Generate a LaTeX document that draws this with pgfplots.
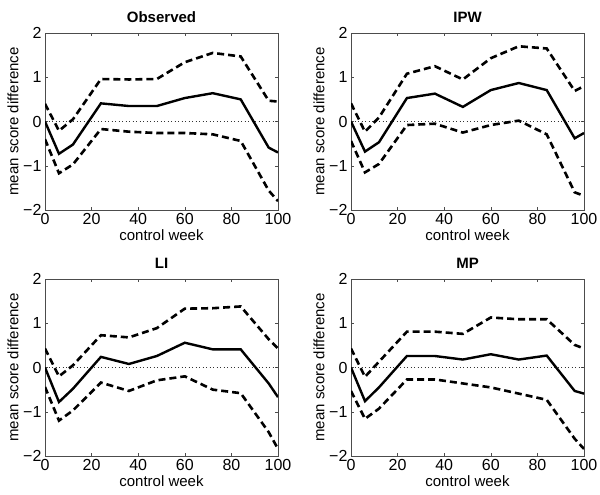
\documentclass[border=0pt]{standalone}
\usepackage{pgfplots}
\pgfplotsset{compat=1.18}
\usepackage{fontspec}
\setmainfont{Liberation Sans}

\pgfplotsset{
  panel/.style={
    scale only axis, width=233bp, height=177bp, anchor=south west,
    xmin=0, xmax=100, ymin=-2, ymax=2,
    xtick={0,20,40,60,80,100}, ytick={-2,-1,0,1,2},
    yticklabels={−2,−1,0,1,2},
    tick align=inside, major tick length=3bp,
    xtick pos=both, ytick pos=both,
    axis line style={black!70, line width=0.5bp},
    tick style={black!70, line width=0.5bp},
    ticklabel style={font=\fontsize{16bp}{18bp}\selectfont},
    label style={font=\fontsize{15bp}{17bp}\selectfont},
    title style={font=\fontsize{15bp}{17bp}\selectfont\bfseries, yshift=1bp},
    xticklabel style={yshift=0bp},
    /pgf/number format/assume math mode=true,
    xlabel={control week}, ylabel={mean score difference},
    xlabel style={yshift=2bp}, ylabel style={yshift=-2bp},
  },
  est/.style={black, line width=2.4bp},
  ci/.style={black, line width=2.6bp, dash pattern=on 7bp off 4bp},
  zero/.style={black!80, line width=0.8bp, dash pattern=on 1bp off 2.5bp},
}

\begin{document}
\begin{tikzpicture}
\useasboundingbox (0,0) rectangle (600bp,-495bp);

% Observed
\begin{axis}[panel, at={(45bp,-210bp)}, title={Observed}]
  \addplot[zero] coordinates {(0,0) (100,0)};
  \addplot[ci] coordinates {(0,0.40) (6,-0.21) (12,0.05) (24,0.96) (36,0.95) (48,0.96) (60,1.34) (72,1.55) (84,1.47) (96,0.47) (100,0.45)};
  \addplot[est] coordinates {(0,0) (6,-0.73) (12,-0.52) (24,0.41) (36,0.35) (48,0.35) (60,0.53) (72,0.64) (84,0.50) (96,-0.59) (100,-0.70)};
  \addplot[ci] coordinates {(0,-0.40) (6,-1.17) (12,-0.97) (24,-0.17) (36,-0.23) (48,-0.26) (60,-0.26) (72,-0.29) (84,-0.44) (96,-1.56) (100,-1.80)};
\end{axis}

% IPW
\begin{axis}[panel, at={(351bp,-210bp)}, title={IPW}]
  \addplot[zero] coordinates {(0,0) (100,0)};
  \addplot[ci] coordinates {(0,0.41) (6,-0.23) (12,0.09) (24,1.08) (36,1.25) (48,0.95) (60,1.43) (72,1.70) (84,1.65) (96,0.69) (100,0.80)};
  \addplot[est] coordinates {(0,0) (6,-0.68) (12,-0.47) (24,0.53) (36,0.63) (48,0.33) (60,0.71) (72,0.87) (84,0.71) (96,-0.38) (100,-0.26)};
  \addplot[ci] coordinates {(0,-0.44) (6,-1.15) (12,-0.96) (24,-0.08) (36,-0.05) (48,-0.25) (60,-0.08) (72,0.02) (84,-0.29) (96,-1.60) (100,-1.68)};
\end{axis}

% LI
\begin{axis}[panel, at={(45bp,-456bp)}, title={LI}]
  \addplot[zero] coordinates {(0,0) (100,0)};
  \addplot[ci] coordinates {(0,0.43) (6,-0.20) (12,0.05) (24,0.73) (36,0.68) (48,0.89) (60,1.33) (72,1.34) (84,1.38) (96,0.64) (100,0.43)};
  \addplot[est] coordinates {(0,0) (6,-0.78) (12,-0.48) (24,0.24) (36,0.08) (48,0.26) (60,0.56) (72,0.41) (84,0.41) (96,-0.36) (100,-0.67)};
  \addplot[ci] coordinates {(0,-0.44) (6,-1.20) (12,-0.97) (24,-0.34) (36,-0.53) (48,-0.29) (60,-0.20) (72,-0.50) (84,-0.58) (96,-1.46) (100,-1.84)};
\end{axis}

% MP
\begin{axis}[panel, at={(351bp,-456bp)}, title={MP}]
  \addplot[zero] coordinates {(0,0) (100,0)};
  \addplot[ci] coordinates {(0,0.43) (6,-0.21) (12,0.13) (24,0.81) (36,0.81) (48,0.76) (60,1.13) (72,1.09) (84,1.09) (96,0.51) (100,0.43)};
  \addplot[est] coordinates {(0,0) (6,-0.76) (12,-0.45) (24,0.26) (36,0.26) (48,0.18) (60,0.30) (72,0.18) (84,0.27) (96,-0.53) (100,-0.59)};
  \addplot[ci] coordinates {(0,-0.53) (6,-1.16) (12,-0.93) (24,-0.27) (36,-0.27) (48,-0.36) (60,-0.45) (72,-0.59) (84,-0.73) (96,-1.61) (100,-1.84)};
\end{axis}
\end{tikzpicture}
\end{document}
